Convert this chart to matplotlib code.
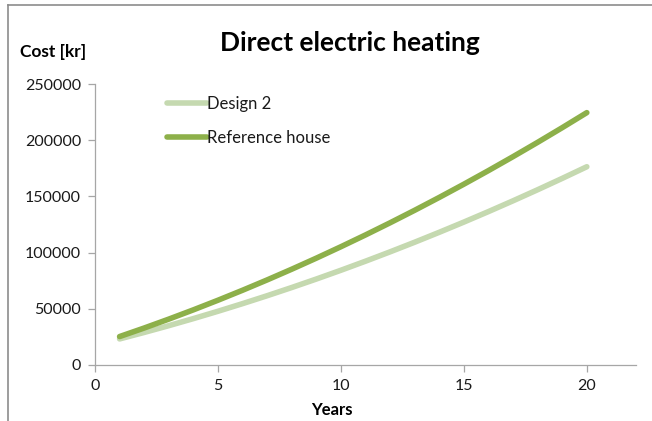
import matplotlib
matplotlib.use("Agg")
import matplotlib.pyplot as plt
from matplotlib.lines import Line2D

# Cumulative heating cost per year
years = list(range(1, 21))
design2 = [23200, 28970, 34990, 41270, 47800, 54590, 61630, 68930, 76480, 84290,
           92350, 100670, 109240, 118070, 127150, 136490, 146080, 155930, 166030, 176390]
reference = [25300, 32900, 40820, 49060, 57620, 66500, 75700, 85220, 95060, 105230,
             115710, 126520, 137650, 149100, 160870, 172960, 185370, 198100, 211150, 224520]

series_names = ["Design 2", "Reference house"]
title = "Direct electric heating"
x_label = "Years"
y_label = "Cost [kr]"
x_ticks = [0, 5, 10, 15, 20]
y_ticks = [0, 50000, 100000, 150000, 200000, 250000]

plt.rcParams["font.family"] = ["Lato", "DejaVu Sans"]

W, H = 652, 421
fig = plt.figure(figsize=(W / 100, H / 100), dpi=100)
fig.patch.set_facecolor("white")

# axes box in pixels: left 95, right 636, top 84, bottom 365
ax = fig.add_axes([95 / W, 1 - 365 / H, (636 - 95) / W, (365 - 84) / H])

c_design = "#C5D9B0"
c_ref = "#8DB04A"

ax.plot(years, design2, color=c_design, lw=4.0, solid_capstyle="round", label=series_names[0])
ax.plot(years, reference, color=c_ref, lw=4.0, solid_capstyle="round", label=series_names[1])

ax.set_xlim(0, 22)
ax.set_ylim(0, 250000)
ax.set_xticks(x_ticks)
ax.set_yticks(y_ticks)
ax.set_xticklabels([str(v) for v in x_ticks])
ax.set_yticklabels([str(v) for v in y_ticks])

for s in ["top", "right"]:
    ax.spines[s].set_visible(False)
for s in ["left", "bottom"]:
    ax.spines[s].set_color("#A6A6A6")
    ax.spines[s].set_linewidth(0.9)
ax.tick_params(axis="both", direction="out", length=5, width=0.9, color="#A6A6A6",
               labelsize=11.5, labelcolor="#1a1a1a")
ax.tick_params(axis="y", pad=5)
ax.tick_params(axis="x", pad=5)

leg = ax.legend(loc="upper left", bbox_to_anchor=(0.106, 1.01), frameon=False,
                handlelength=2.35, handletextpad=0.05, labelspacing=1.05, fontsize=12)
for t in leg.get_texts():
    t.set_color("#1a1a1a")

fig.text(350 / W, 1 - 43 / H, title, ha="center", va="center", fontsize=19,
         fontweight="bold", color="black")
fig.text(20 / W, 1 - 52 / H, y_label, ha="left", va="center", fontsize=12.5,
         fontweight="bold", color="black")
fig.text(332 / W, 1 - 410 / H, x_label, ha="center", va="center", fontsize=12,
         fontweight="bold", color="black")

# chart frame (left and top edges)
fig.add_artist(Line2D([8 / W, 8 / W], [0, 1 - 5 / H], color="#8C8C8C", lw=1.2))
fig.add_artist(Line2D([8 / W, 1], [1 - 5 / H, 1 - 5 / H], color="#8C8C8C", lw=1.2))

fig.savefig("out.png", dpi=100)
